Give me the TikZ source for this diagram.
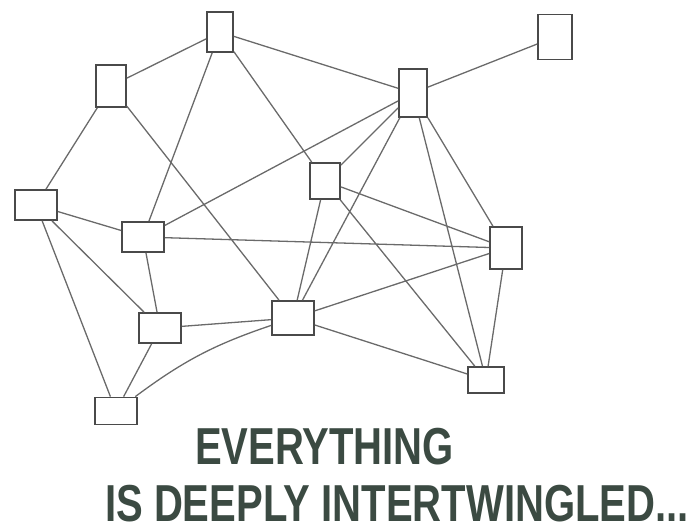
\documentclass[tikz,border=0pt]{standalone}
\usepackage{fontspec}
\setmainfont{Liberation Sans}
\usetikzlibrary{positioning}

\definecolor{boxink}{HTML}{4A4A4A}
\definecolor{lineink}{HTML}{6A6A6A}
\definecolor{penink}{HTML}{3B4A42}

\tikzset{
  card/.style={draw=boxink, line width=1.8pt, inner sep=0pt, minimum width=#1},
  card/.default=30pt,
  link/.style={draw=lineink, line width=1.3pt},
  scrawl/.style={text=penink, font=\bfseries\fontsize{52}{52}\selectfont, xscale=0.77, anchor=base west, inner sep=0pt}
}

\begin{document}
\begin{tikzpicture}[x=1pt,y=-1pt]
\useasboundingbox (0,0) rectangle (698,531);

\node[card=26pt, minimum height=40pt] (A) at (220,32) {};
\node[card=30pt, minimum height=42pt] (B) at (111,86) {};
\node[card=34pt, minimum height=45pt] (C) at (555,37) {};
\node[card=28pt, minimum height=48pt] (D) at (413,93) {};
\node[card=42pt, minimum height=30pt] (E) at (36,205) {};
\node[card=42pt, minimum height=30pt] (F) at (143,237) {};
\node[card=30pt, minimum height=36pt] (G) at (325,181) {};
\node[card=32pt, minimum height=42pt] (H) at (506,248) {};
\node[card=42pt, minimum height=30pt] (I) at (160,328) {};
\node[card=42pt, minimum height=34pt] (J) at (293,318) {};
\node[card=36pt, minimum height=26pt] (K) at (486,380) {};
\node[card=42pt, minimum height=27pt] (L) at (116,411) {};

\draw[link] (A) -- (B)  (A) -- (D)  (A) -- (F)  (A) -- (G)
            (B) -- (E)  (B) -- (J)  (C) -- (D)
            (E) -- (F)  (E) -- (I)  (E) -- (L)
            (F) -- (D)  (F) -- (H)  (F) -- (I)
            (G) -- (D)  (G) -- (H)  (G) -- (K)  (G) -- (J)
            (D) -- (J)  (D) -- (H)  (D) -- (K)
            (H) -- (J)  (H) -- (K)  (J) -- (K)
            (I) -- (J)  (I) -- (L);
\draw[link] (J) to[bend right=9] (L);

\node[scrawl] (line1) at (195,464) {EVERYTHING};
\node[scrawl] (line2) at (105,521) {IS DEEPLY INTERTWINGLED...};
\end{tikzpicture}
\end{document}
